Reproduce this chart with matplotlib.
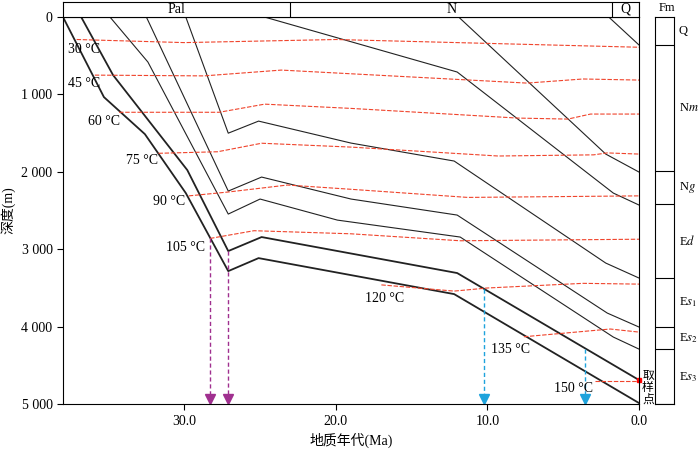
import numpy as np
import matplotlib.pyplot as plt

LINE_BLACK = '#222222'
ISO_RED = '#f0442c'
ARROW_PURPLE = '#a0308f'
ARROW_BLUE = '#1ea3dc'

# Burial curves: (ages Ma, depths m) for the base of each formation.
Q_AGE = [2.0, 0.0]
Q_DEP = [0, 362]
NM_AGE = [11.9, 2.2, 0.0]
NM_DEP = [0, 1770, 2003]
NG_AGE = [24.7, 12.0, 1.7, 0.0]
NG_DEP = [0, 710, 2274, 2429]
ED_AGE = [29.9, 27.1, 25.1, 19.0, 12.2, 2.2, 0.0]
ED_DEP = [0, 1500, 1344, 1628, 1860, 3178, 3372]
ES1_AGE = [32.5, 27.1, 24.9, 19.0, 12.0, 2.1, 0.0]
ES1_DEP = [0, 2248, 2067, 2351, 2558, 3824, 4005]
ES2_AGE = [34.9, 32.4, 27.1, 25.0, 19.9, 11.8, 1.7, 0.0]
ES2_DEP = [0, 581, 2545, 2351, 2623, 2842, 4134, 4290]
ES3_AGE = [36.8, 34.7, 29.8, 27.1, 24.9, 12.0, 0.0]
ES3_DEP = [0, 749, 1977, 3023, 2842, 3307, 4690]
BASE_AGE = [38.0, 35.3, 32.6, 29.9, 27.1, 25.1, 12.2, 0.0]
BASE_DEP = [0, 1034, 1512, 2274, 3282, 3114, 3579, 4987]

# Isotherms: (ages, depths)
ISO_30 = ([37.1, 30.0, 20.0, 10.0, 0.0], [290, 330, 290, 340, 390])
ISO_45 = ([35.9, 28.7, 23.6, 7.4, 3.7, 0.0], [750, 760, 685, 853, 800, 814])
ISO_60 = ([34.3, 27.7, 24.7, 19.0, 8.0, 4.7, 3.2, 0.0], [1230, 1230, 1125, 1180, 1305, 1318, 1253, 1253])
ISO_75 = ([31.7, 27.8, 24.9, 19.0, 9.3, 3.0, 2.1, 0.0], [1760, 1740, 1630, 1680, 1795, 1780, 1755, 1770])
ISO_90 = ([29.7, 27.1, 23.2, 19.0, 11.3, 0.0], [2310, 2260, 2170, 2225, 2330, 2310])
ISO_105 = ([28.3, 25.4, 19.0, 11.8, 0.0], [2860, 2760, 2800, 2890, 2870])
ISO_120 = ([17.0, 12.2, 10.0, 3.7, 0.0], [3460, 3540, 3500, 3440, 3450])
ISO_135 = ([7.6, 1.9, 0.0], [4130, 4030, 4070])
ISO_150 = ([2.9, 0.0], [4700, 4700])

ISO_LABELS = ['30 °C', '45 °C', '60 °C', '75 °C', '90 °C', '105 °C', '120 °C', '135 °C', '150 °C']
LABEL_AGE = [36.6, 36.6, 35.3, 32.8, 31.0, 29.9, 16.8, 8.5, 4.3]
LABEL_DEP = [413, 853, 1344, 1848, 2377, 2972, 3630, 4290, 4793]

# Arrows: (age, start depth)
PURPLE_ARROWS = [(28.3, 2860), (27.1, 3023)]
BLUE_ARROWS = [(10.2, 3514), (3.55, 4290)]

PERIODS = ['Pal', 'N', 'Q']
PERIOD_BOUNDS = [38.0, 23.0, 1.8, 0.0]
FM_NAMES = ['Q', 'N$m$', 'N$g$', 'E$d$', 'E$s_1$', 'E$s_2$', 'E$s_3$']
FM_BOUNDS = [0, 362, 1990, 2416, 3372, 4005, 4290, 5000]

plt.rcParams['font.family'] = ['Liberation Serif', 'Noto Sans CJK SC']
plt.rcParams['mathtext.fontset'] = 'stix'
plt.rcParams['font.size'] = 10


def burial_plot():
    plt.figure(figsize=(7, 4.49), dpi=100)
    ax = plt.axes([0.09, 0.1, 0.823, 0.862])
    thin = [(Q_AGE, Q_DEP), (NM_AGE, NM_DEP), (NG_AGE, NG_DEP), (ED_AGE, ED_DEP),
            (ES1_AGE, ES1_DEP), (ES2_AGE, ES2_DEP)]
    for a, d in thin:
        plt.plot(a, d, color=LINE_BLACK, lw=0.8)
    plt.plot(ES3_AGE, ES3_DEP, color=LINE_BLACK, lw=1.3)
    plt.plot(BASE_AGE, BASE_DEP, color=LINE_BLACK, lw=1.3)
    for a, d in [ISO_30, ISO_45, ISO_60, ISO_75, ISO_90, ISO_105, ISO_120, ISO_135, ISO_150]:
        plt.plot(a, d, color=ISO_RED, lw=0.8, ls=(0, (4, 1.5)))
    for t, x, y in zip(ISO_LABELS, LABEL_AGE, LABEL_DEP):
        plt.text(x, y, t, ha='center', va='center', fontsize=10)
    for color, arrows in [(ARROW_PURPLE, PURPLE_ARROWS), (ARROW_BLUE, BLUE_ARROWS)]:
        for x, y in arrows:
            plt.plot([x, x], [y, 4930], color=color, lw=1, ls=(0, (3, 2)))
            plt.plot(x, 4930, marker='v', color=color, ms=7)
    plt.plot(0.0, 4690, marker='s', color='red', ms=3, clip_on=False)
    plt.text(-0.2, 4790, '取\n样\n点', ha='left', va='center', fontsize=8.5, linespacing=0.95)
    plt.xlim(38.0, 0.0)
    plt.ylim(5000, 0)
    plt.xticks([30, 20, 10, 0], ['30.0', '20.0', '10.0', '0.0'])
    plt.yticks([0, 1000, 2000, 3000, 4000, 5000], ['0', '1 000', '2 000', '3 000', '4 000', '5 000'])
    plt.tick_params(direction='out', length=4)
    plt.xlabel('地质年代(Ma)', fontsize=10)
    plt.ylabel('深度(m)', fontsize=10)

    # Period band on top
    plt.axes([0.09, 0.962, 0.823, 0.034])
    for i, name in enumerate(PERIODS):
        plt.axvline(PERIOD_BOUNDS[i + 1], color='black', lw=0.8)
        plt.text((PERIOD_BOUNDS[i] + PERIOD_BOUNDS[i + 1]) / 2, 0.5, name, ha='center', va='center')
    plt.xlim(38.0, 0.0)
    plt.ylim(0, 1)
    plt.xticks([])
    plt.yticks([])

    # Formation column on right
    plt.axes([0.936, 0.1, 0.027, 0.862])
    for i, name in enumerate(FM_NAMES):
        plt.axhline(FM_BOUNDS[i + 1], color='black', lw=0.8)
        plt.text(1.25, (FM_BOUNDS[i] + FM_BOUNDS[i + 1]) / 2, name, ha='left', va='center', fontsize=9)
    plt.text(0.6, -40, 'Fm', ha='center', va='bottom', fontsize=9)
    plt.xlim(0, 1)
    plt.ylim(5000, 0)
    plt.xticks([])
    plt.yticks([])

    plt.savefig('out.png', dpi=100)


if __name__ == '__main__':
    burial_plot()
